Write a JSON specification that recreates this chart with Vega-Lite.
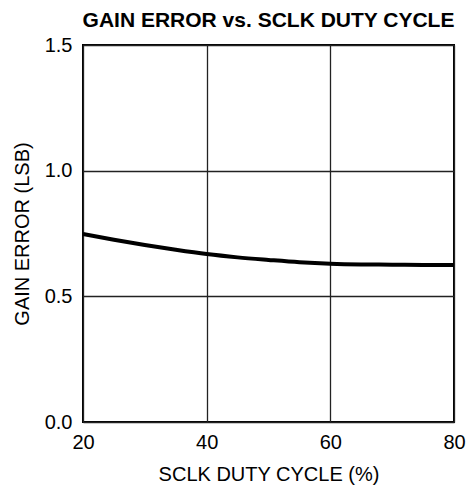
{
  "$schema": "https://vega.github.io/schema/vega-lite/v6.json",
  "width": 371,
  "height": 377,
  "autosize": {"type": "none"},
  "padding": {"left": 83, "top": 45, "right": 16, "bottom": 65},
  "background": "white",
  "title": {
    "text": "GAIN ERROR vs. SCLK DUTY CYCLE",
    "font": "Liberation Sans",
    "fontSize": 21,
    "fontWeight": "bold",
    "color": "black",
    "anchor": "middle",
    "offset": 4
  },
  "config": {
    "view": {"stroke": "black", "strokeWidth": 2},
    "axis": {
      "labelFont": "Liberation Sans",
      "titleFont": "Liberation Sans",
      "labelFontSize": 20,
      "titleFontSize": 20,
      "labelColor": "black",
      "titleColor": "black",
      "titleFontWeight": "normal",
      "ticks": false,
      "domain": false,
      "gridColor": "#222222",
      "gridOpacity": 1,
      "gridWidth": 1.3
    }
  },
  "data": {
    "values": [
      {"x": 20, "y": 0.748},
      {"x": 25, "y": 0.725},
      {"x": 30, "y": 0.704},
      {"x": 35, "y": 0.685},
      {"x": 40, "y": 0.668},
      {"x": 45, "y": 0.655},
      {"x": 50, "y": 0.645},
      {"x": 55, "y": 0.636},
      {"x": 60, "y": 0.630},
      {"x": 65, "y": 0.627},
      {"x": 70, "y": 0.626},
      {"x": 75, "y": 0.625},
      {"x": 80, "y": 0.625}
    ]
  },
  "mark": {"type": "line", "color": "black", "strokeWidth": 4, "interpolate": "monotone"},
  "encoding": {
    "x": {
      "field": "x",
      "type": "quantitative",
      "scale": {"domain": [20, 80], "nice": false},
      "axis": {"values": [20, 40, 60, 80], "title": "SCLK DUTY CYCLE (%)", "labelPadding": 10, "titlePadding": 12, "labelFlush": false}
    },
    "y": {
      "field": "y",
      "type": "quantitative",
      "scale": {"domain": [0, 1.5], "nice": false},
      "axis": {"values": [0, 0.5, 1, 1.5], "format": ".1f", "title": "GAIN ERROR (LSB)", "labelPadding": 11, "titlePadding": 12, "labelFlush": false}
    }
  }
}
